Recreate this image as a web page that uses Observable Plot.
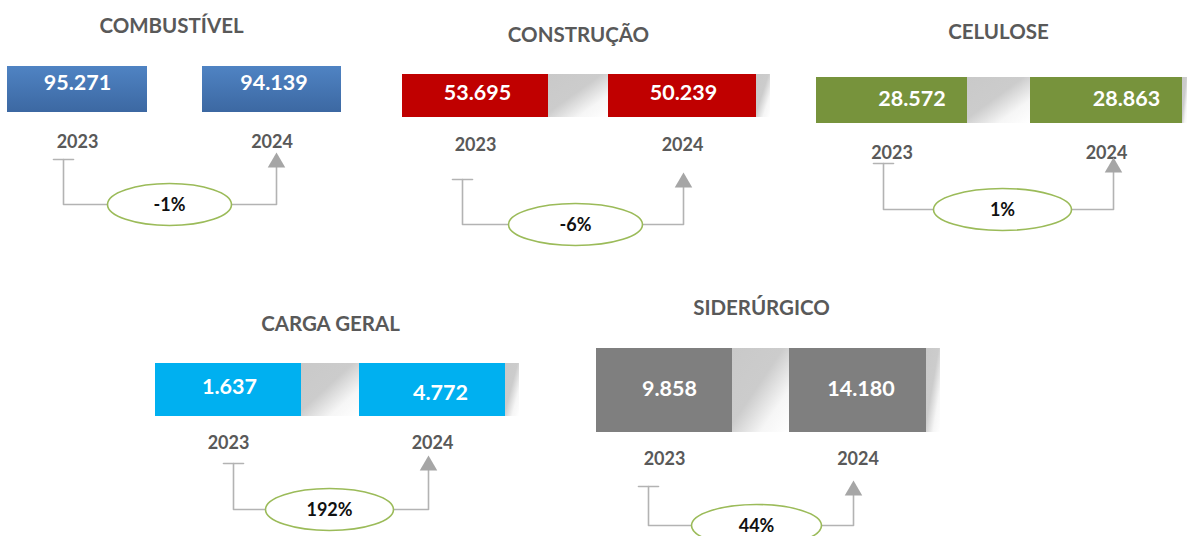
<!DOCTYPE html>
<html>
<head>
<meta charset="utf-8">
<script src="https://cdn.jsdelivr.net/npm/d3@7"></script>
<script src="https://cdn.jsdelivr.net/npm/@observablehq/plot@0.6"></script>
<style>
  html, body { margin: 0; padding: 0; background: #fff; }
  #chart svg { display: block; }
</style>
</head>
<body>
<div id="chart"></div>
<script>
// ---- data ----
const categories = ["COMBUSTÍVEL", "CONSTRUÇÃO", "CELULOSE", "CARGA GERAL", "SIDERÚRGICO"];
const values2023 = [95271, 53695, 28572, 1637, 9858];
const values2024 = [94139, 50239, 28863, 4772, 14180];
const changes = [-1, -6, 1, 192, 44];
const years = ["2023", "2024"];

// ---- layout (per panel, pixel geometry) ----
const layout = [
  {title: [171, 26], b1: [7, 147], b2: [202, 341], by: [66, 112], vdx: [0, 2], vy: [83, 83], yy: 142,
   lx: 63, tickY: 159, cy: 204, cx: 169, erx: 62, ax: 276, tipY: 155, shadow: false},
  {title: [578, 35], b1: [402, 548], b2: [608, 756], by: [74, 117], vdx: [2, 1], vy: [93, 93], yy: 145,
   lx: 462, tickY: 179, cy: 224, cx: 575, erx: 67, ax: 683, tipY: 175, shadow: true},
  {title: [998, 32], b1: [816, 967], b2: [1030, 1182], by: [77, 123], vdx: [20, 20], vy: [99, 99], yy: 153,
   lx: 883, tickY: 163, cy: 209, cx: 1002, erx: 69, ax: 1113, tipY: 160, shadow: true},
  {title: [330, 324], b1: [155, 301], b2: [359, 505], by: [363, 416], vdx: [1, 8], vy: [387, 393], yy: 443,
   lx: 233, tickY: 463, cy: 509, cx: 329, erx: 64, ax: 428, tipY: 458, shadow: true},
  {title: [761, 308], b1: [596, 732], b2: [789, 926], by: [348, 432], vdx: [5, 3], vy: [389, 389], yy: 459,
   lx: 648, tickY: 486, cy: 525, cx: 756, erx: 65, ax: 853, tipY: 483, shadow: true}
];
const boxFills = ["url(#blueGrad)", "#c00000", "#77933c", "#00b0f0", "#7f7f7f"];

const fmt = d3.formatLocale({decimal: ",", thousands: ".", grouping: [3], currency: ["", ""]}).format(",d");

const panels = categories.map((c, i) => ({category: c, v: [values2023[i], values2024[i]], change: changes[i], L: layout[i], fill: boxFills[i]}));

const boxes = panels.flatMap(p => [p.L.b1, p.L.b2].map((b, j) => ({
  x1: b[0], x2: b[1], y1: p.L.by[0], y2: p.L.by[1], fill: p.fill,
  label: fmt(p.v[j]), lx: (b[0] + b[1]) / 2 + p.L.vdx[j], ly: p.L.vy[j],
  year: years[j], yy: p.L.yy, cxBox: (b[0] + b[1]) / 2
})));
const shadows = panels.filter(p => p.L.shadow).flatMap(p => [
  {x1: p.L.b1[1], x2: p.L.b2[0], y1: p.L.by[0], y2: p.L.by[1]},
  {x1: p.L.b2[1], x2: Math.min(p.L.b2[1] + 14, 1187), y1: p.L.by[0], y2: p.L.by[1]}
]);
const connectorPts = panels.flatMap((p, i) => {
  const L = p.L;
  return [
    {k: i + "t", x: L.lx - 10, y: L.tickY}, {k: i + "t", x: L.lx + 10, y: L.tickY},
    {k: i + "l", x: L.lx, y: L.tickY}, {k: i + "l", x: L.lx, y: L.cy}, {k: i + "l", x: L.cx - L.erx, y: L.cy},
    {k: i + "r", x: L.cx + L.erx, y: L.cy}, {k: i + "r", x: L.ax, y: L.cy}, {k: i + "r", x: L.ax, y: L.tipY + 10}
  ];
});

const ellipseSymbol = {
  draw(ctx, size) {
    const rx = Math.sqrt(size / Math.PI), ry = 21, k = 0.5523;
    ctx.moveTo(rx, 0);
    ctx.bezierCurveTo(rx, ry * k, rx * k, ry, 0, ry);
    ctx.bezierCurveTo(-rx * k, ry, -rx, ry * k, -rx, 0);
    ctx.bezierCurveTo(-rx, -ry * k, -rx * k, -ry, 0, -ry);
    ctx.bezierCurveTo(rx * k, -ry, rx, -ry * k, rx, 0);
    ctx.closePath();
  }
};

const chart = Plot.plot({
  width: 1187, height: 536,
  margin: 0,
  x: {domain: [0, 1187], range: [0, 1187], axis: null},
  y: {domain: [0, 536], range: [0, 536], axis: null},
  r: {type: "identity"},
  color: {type: "identity"},
  style: {fontFamily: "Lato, 'Open Sans', sans-serif", background: "#fff"},
  marks: [
    Plot.rect(shadows, {x1: "x1", x2: "x2", y1: "y1", y2: "y2", fill: "url(#shadeGrad)"}),
    Plot.rect(boxes, {x1: "x1", x2: "x2", y1: "y1", y2: "y2", fill: "fill"}),
    Plot.text(boxes, {x: "lx", y: "ly", text: "label", fill: "#fff", fontSize: 21.5, fontWeight: "bold"}),
    Plot.text(boxes, {x: "cxBox", y: "yy", text: "year", fill: "#595959", fontSize: 18, fontWeight: "bold"}),
    Plot.text(panels, {x: p => p.L.title[0], y: p => p.L.title[1], text: "category", fill: "#595959", fontSize: 20.5, fontWeight: "bold"}),
    Plot.line(connectorPts, {x: "x", y: "y", z: "k", stroke: "#b3b3b3", strokeWidth: 1.6}),
    Plot.dot(panels, {x: p => p.L.ax, y: p => p.L.tipY + 7, symbol: "triangle", r: 6.5, fill: "#a6a6a6", stroke: "none"}),
    Plot.dot(panels, {x: p => p.L.cx, y: p => p.L.cy, r: p => p.L.erx, symbol: ellipseSymbol, fill: "#fff", stroke: "#9bbb59", strokeWidth: 1.6}),
    Plot.text(panels, {x: p => p.L.cx, y: p => p.L.cy + 1, text: p => `${p.change}%`, fill: "#111", fontSize: 18, fontWeight: "bold"})
  ]
});

const defs = d3.select(chart).insert("defs", ":first-child");
const blue = defs.append("linearGradient").attr("id", "blueGrad").attr("x1", 0).attr("y1", 0).attr("x2", 0).attr("y2", 1);
blue.append("stop").attr("offset", "0%").attr("stop-color", "#4f83c3");
blue.append("stop").attr("offset", "100%").attr("stop-color", "#3c68a2");
const shade = defs.append("linearGradient").attr("id", "shadeGrad").attr("x1", 0).attr("y1", 0).attr("x2", 1).attr("y2", 1);
shade.append("stop").attr("offset", "0%").attr("stop-color", "#c9c9c9");
shade.append("stop").attr("offset", "45%").attr("stop-color", "#cccccc");
shade.append("stop").attr("offset", "75%").attr("stop-color", "#f6f6f6");
shade.append("stop").attr("offset", "100%").attr("stop-color", "#ffffff");

document.getElementById("chart").append(chart);
</script>
</body>
</html>
